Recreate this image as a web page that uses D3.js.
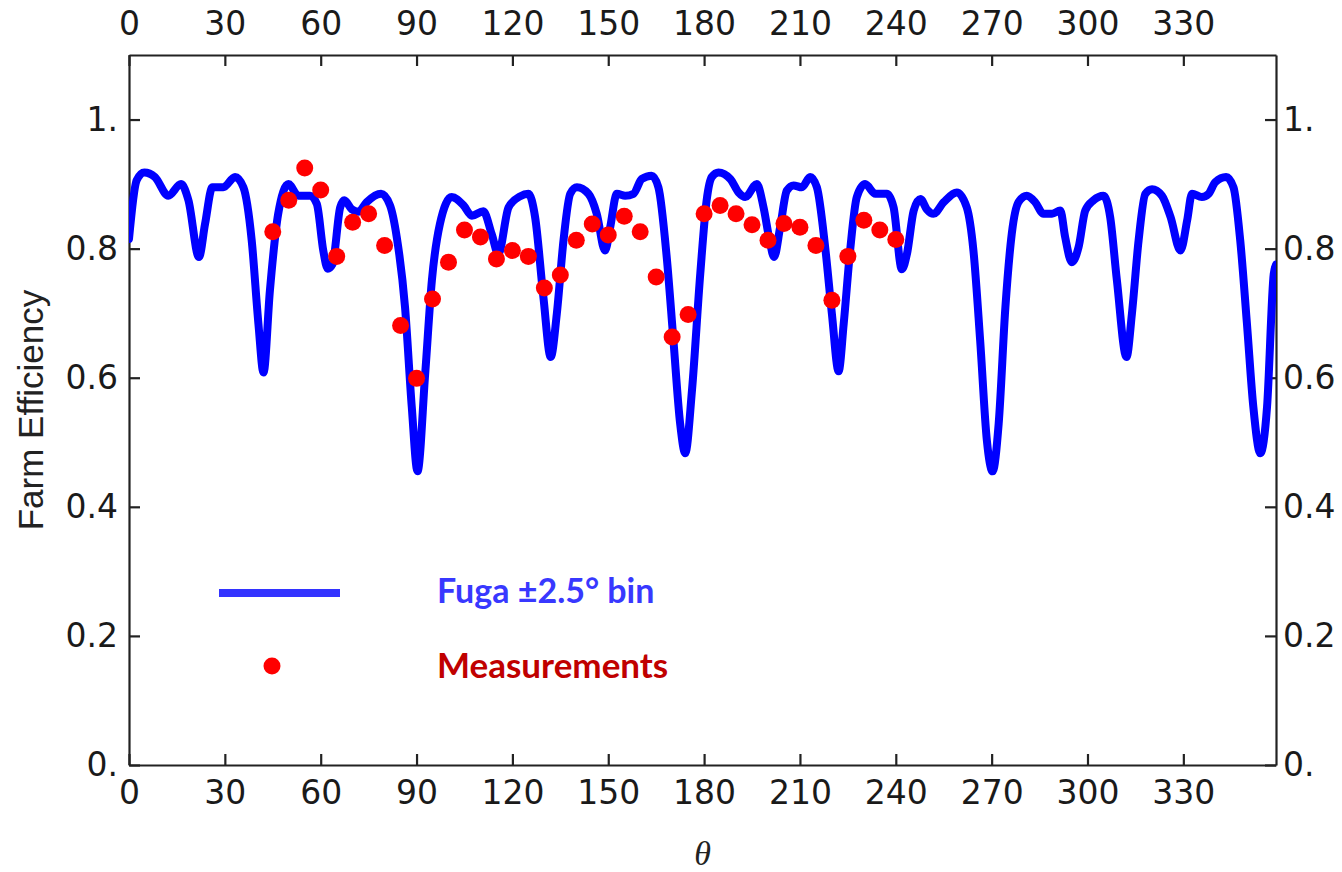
<!DOCTYPE html>
<html>
<head>
<meta charset="utf-8">
<script src="https://cdn.jsdelivr.net/npm/d3@7"></script>
<style>
  html, body { margin: 0; padding: 0; background: #fff; }
  .tick text { font-family: "DejaVu Sans", sans-serif; font-size: 33px; fill: #1a1a1a; }
  .tick line, .domain { stroke: #222; stroke-width: 2.2px; }
</style>
</head>
<body>
<div id="chart"></div>
<script>
// Fuga model, +-2.5 deg bins
var fugaTheta = [0, 2.4, 4.8, 8.1, 12.3, 16.3, 18.6, 21.9, 23.8, 26.1, 29.5, 33.2, 35.8, 38.4, 40.5, 42.1, 44.1, 46.7, 49.9,
	53.0, 56.7, 58.8, 60.8, 62.2, 63.7, 66.1, 67.4, 69.7, 71.8, 74.4, 78.9, 81.7, 83.8, 86.4, 88.5, 90.3, 92.7, 94.8, 97.3,
	101.0, 104.7, 107.3, 110.9, 113.5, 115.6, 118.8, 122.4, 125.0, 127.1, 129.7, 132.0, 133.9, 136.0, 138.1, 140.2, 143.8,
	146.4, 149.0, 150.6, 152.7, 155.3, 157.9, 160.5, 163.6, 165.7, 168.3, 170.4, 172.5, 174.1, 176.2, 178.8, 180.8, 182.4,
	184.5, 188.2, 190.8, 192.9, 196.5, 198.6, 200.5, 201.9, 203.8, 205.9, 208.0, 210.6, 213.2, 215.3, 217.9, 220.0, 222.1,
	223.7, 225.7, 227.8, 230.4, 233.6, 237.2, 239.3, 241.9, 243.5, 245.6, 247.7, 249.7, 251.8, 255.0, 259.1, 262.2, 264.3,
	266.4, 268.5, 270.3, 272.2, 274.3, 276.3, 278.4, 281.0, 283.6, 286.2, 288.9, 291.5, 293.0, 295.1, 297.2, 299.3, 301.9,
	305.0, 307.1, 309.2, 312.2, 313.9, 316.0, 318.1, 320.2, 323.3, 326.0, 329.1, 331.2, 332.7, 335.8, 337.9, 340.0, 343.4,
	345.7, 347.8, 349.9, 351.9, 354.1, 356.2, 358.3, 359];
var fugaEff = [0.815, 0.906, 0.918, 0.911, 0.882, 0.900, 0.875, 0.787, 0.838, 0.895, 0.895, 0.911, 0.895, 0.813, 0.684, 0.608, 0.735, 0.854, 0.900,
	0.882, 0.882, 0.869, 0.797, 0.769, 0.776, 0.864, 0.875, 0.861, 0.857, 0.872, 0.885, 0.867, 0.818, 0.709, 0.555, 0.455, 0.606, 0.751, 0.838,
	0.880, 0.867, 0.851, 0.858, 0.823, 0.792, 0.864, 0.881, 0.885, 0.849, 0.725, 0.632, 0.699, 0.813, 0.885, 0.895, 0.885,
	0.854, 0.797, 0.833, 0.885, 0.882, 0.885, 0.908, 0.913, 0.895, 0.787, 0.658, 0.529, 0.483, 0.580, 0.761, 0.875, 0.911,
	0.918, 0.908, 0.887, 0.880, 0.900, 0.864, 0.813, 0.787, 0.833, 0.890, 0.898, 0.895, 0.911, 0.895, 0.802, 0.699, 0.610,
	0.684, 0.797, 0.880, 0.900, 0.885, 0.885, 0.864, 0.768, 0.792, 0.859, 0.877, 0.861, 0.854, 0.872, 0.887, 0.864, 0.797,
	0.658, 0.503, 0.455, 0.529, 0.709, 0.823, 0.872, 0.882, 0.872, 0.854, 0.854, 0.859, 0.818, 0.779, 0.802, 0.859, 0.875,
	0.882, 0.849, 0.751, 0.632, 0.699, 0.813, 0.885, 0.892, 0.882, 0.849, 0.797, 0.844, 0.885, 0.880, 0.885, 0.903, 0.911,
	0.895, 0.813, 0.684, 0.555, 0.483, 0.555, 0.761, 0.775];

// measured farm efficiency every 5 deg
var measTheta = [45, 50, 55, 60, 65, 70, 75, 80, 85, 90, 95, 100, 105, 110, 115, 120, 125, 130, 135, 140,
	145, 150, 155, 160, 165, 170, 175, 180, 185, 190, 195, 200, 205, 210, 215, 220, 225, 230, 235, 240];
var measEff = [0.826, 0.875, 0.925, 0.891, 0.788, 0.841, 0.854, 0.805, 0.681, 0.599, 0.722, 0.779, 0.829, 0.818, 0.784, 0.797, 0.788, 0.739, 0.759, 0.813,
	0.838, 0.821, 0.850, 0.826, 0.756, 0.663, 0.698, 0.854, 0.867, 0.854, 0.837, 0.813, 0.839, 0.833, 0.805, 0.720, 0.788, 0.844, 0.829, 0.814];

var xTicks = [0, 30, 60, 90, 120, 150, 180, 210, 240, 270, 300, 330];
var yTicks = [0, 0.2, 0.4, 0.6, 0.8, 1.0];

var svgWidth = 1342, svgHeight = 872;
var margin = {top: 55, right: 66, bottom: 107, left: 129};
var width = svgWidth - margin.left - margin.right;
var height = svgHeight - margin.top - margin.bottom;

var svg = d3.select("#chart").append("svg")
	.attr("width", svgWidth)
	.attr("height", svgHeight)
	.append("g")
	.attr("transform", "translate(" + margin.left + "," + margin.top + ")");

var x = d3.scaleLinear().domain([0, 359]).range([0, width]);
var y = d3.scaleLinear().domain([0, 1.1]).range([height, 0]);

var yFmt = function(d) {
	if (d === 0) return "0.";
	if (d === 1) return "1.";
	return d.toFixed(1);
};

svg.append("defs").append("clipPath").attr("id", "plotclip")
	.append("rect").attr("width", width).attr("height", height);

// axes, ticks inward on all four sides
svg.append("g")
	.attr("transform", "translate(0," + height + ")")
	.call(d3.axisBottom(x).tickValues(xTicks).tickSize(-11).tickSizeOuter(0).tickPadding(16));

svg.append("g")
	.call(d3.axisTop(x).tickValues(xTicks).tickSize(-11).tickSizeOuter(0).tickPadding(20));

svg.append("g")
	.call(d3.axisLeft(y).tickValues(yTicks).tickFormat(yFmt).tickSize(-11).tickSizeOuter(0).tickPadding(11));

svg.append("g")
	.attr("transform", "translate(" + width + ",0)")
	.call(d3.axisRight(y).tickValues(yTicks).tickFormat(yFmt).tickSize(-11).tickSizeOuter(0).tickPadding(7));

// axis titles
svg.append("text")
	.attr("transform", "translate(" + (43 - margin.left) + "," + (410 - margin.top) + ") rotate(-90)")
	.attr("text-anchor", "middle")
	.style("font-family", "'Liberation Sans', sans-serif")
	.style("font-size", "35px")
	.style("fill", "#222")
	.text("Farm Efficiency");

svg.append("text")
	.attr("x", width / 2)
	.attr("y", height + 100)
	.attr("text-anchor", "middle")
	.style("font-family", "'Liberation Serif', serif")
	.style("font-style", "italic")
	.style("font-size", "34px")
	.style("fill", "#222")
	.text("θ");

// model curve
var fuga = fugaTheta.map(function(t, i) { return {t: t, v: fugaEff[i]}; });
var line = d3.line()
	.x(function(d) { return x(d.t); })
	.y(function(d) { return y(d.v); })
	.curve(d3.curveMonotoneX);

svg.append("path")
	.datum(fuga)
	.attr("clip-path", "url(#plotclip)")
	.attr("fill", "none")
	.attr("stroke", "#0000ff")
	.attr("stroke-width", 8)
	.attr("stroke-linejoin", "round")
	.attr("stroke-linecap", "round")
	.attr("d", line);

// measurements
var meas = measTheta.map(function(t, i) { return {t: t, v: measEff[i]}; });
svg.selectAll("circle.meas")
	.data(meas)
	.enter().append("circle")
	.attr("class", "meas")
	.attr("r", 8.5)
	.attr("cx", function(d) { return x(d.t); })
	.attr("cy", function(d) { return y(d.v); })
	.attr("fill", "#ff0000");

// legend
var lg = svg.append("g");
lg.append("line")
	.attr("x1", 219 - margin.left).attr("x2", 340 - margin.left)
	.attr("y1", 593 - margin.top).attr("y2", 593 - margin.top)
	.attr("stroke", "#3333ff").attr("stroke-width", 8);
lg.append("text")
	.attr("x", 437 - margin.left).attr("y", 603 - margin.top)
	.style("font-family", "Lato, 'Open Sans', sans-serif")
	.style("font-weight", "bold")
	.style("font-size", "34px")
	.style("fill", "#3838ff")
	.text("Fuga ±2.5° bin");
lg.append("circle")
	.attr("cx", 272 - margin.left).attr("cy", 666 - margin.top)
	.attr("r", 8.5).attr("fill", "#ff0000");
lg.append("text")
	.attr("x", 437 - margin.left).attr("y", 678 - margin.top)
	.style("font-family", "Lato, 'Open Sans', sans-serif")
	.style("font-weight", "bold")
	.style("font-size", "35px")
	.style("fill", "#c00000")
	.text("Measurements");
</script>
</body>
</html>
